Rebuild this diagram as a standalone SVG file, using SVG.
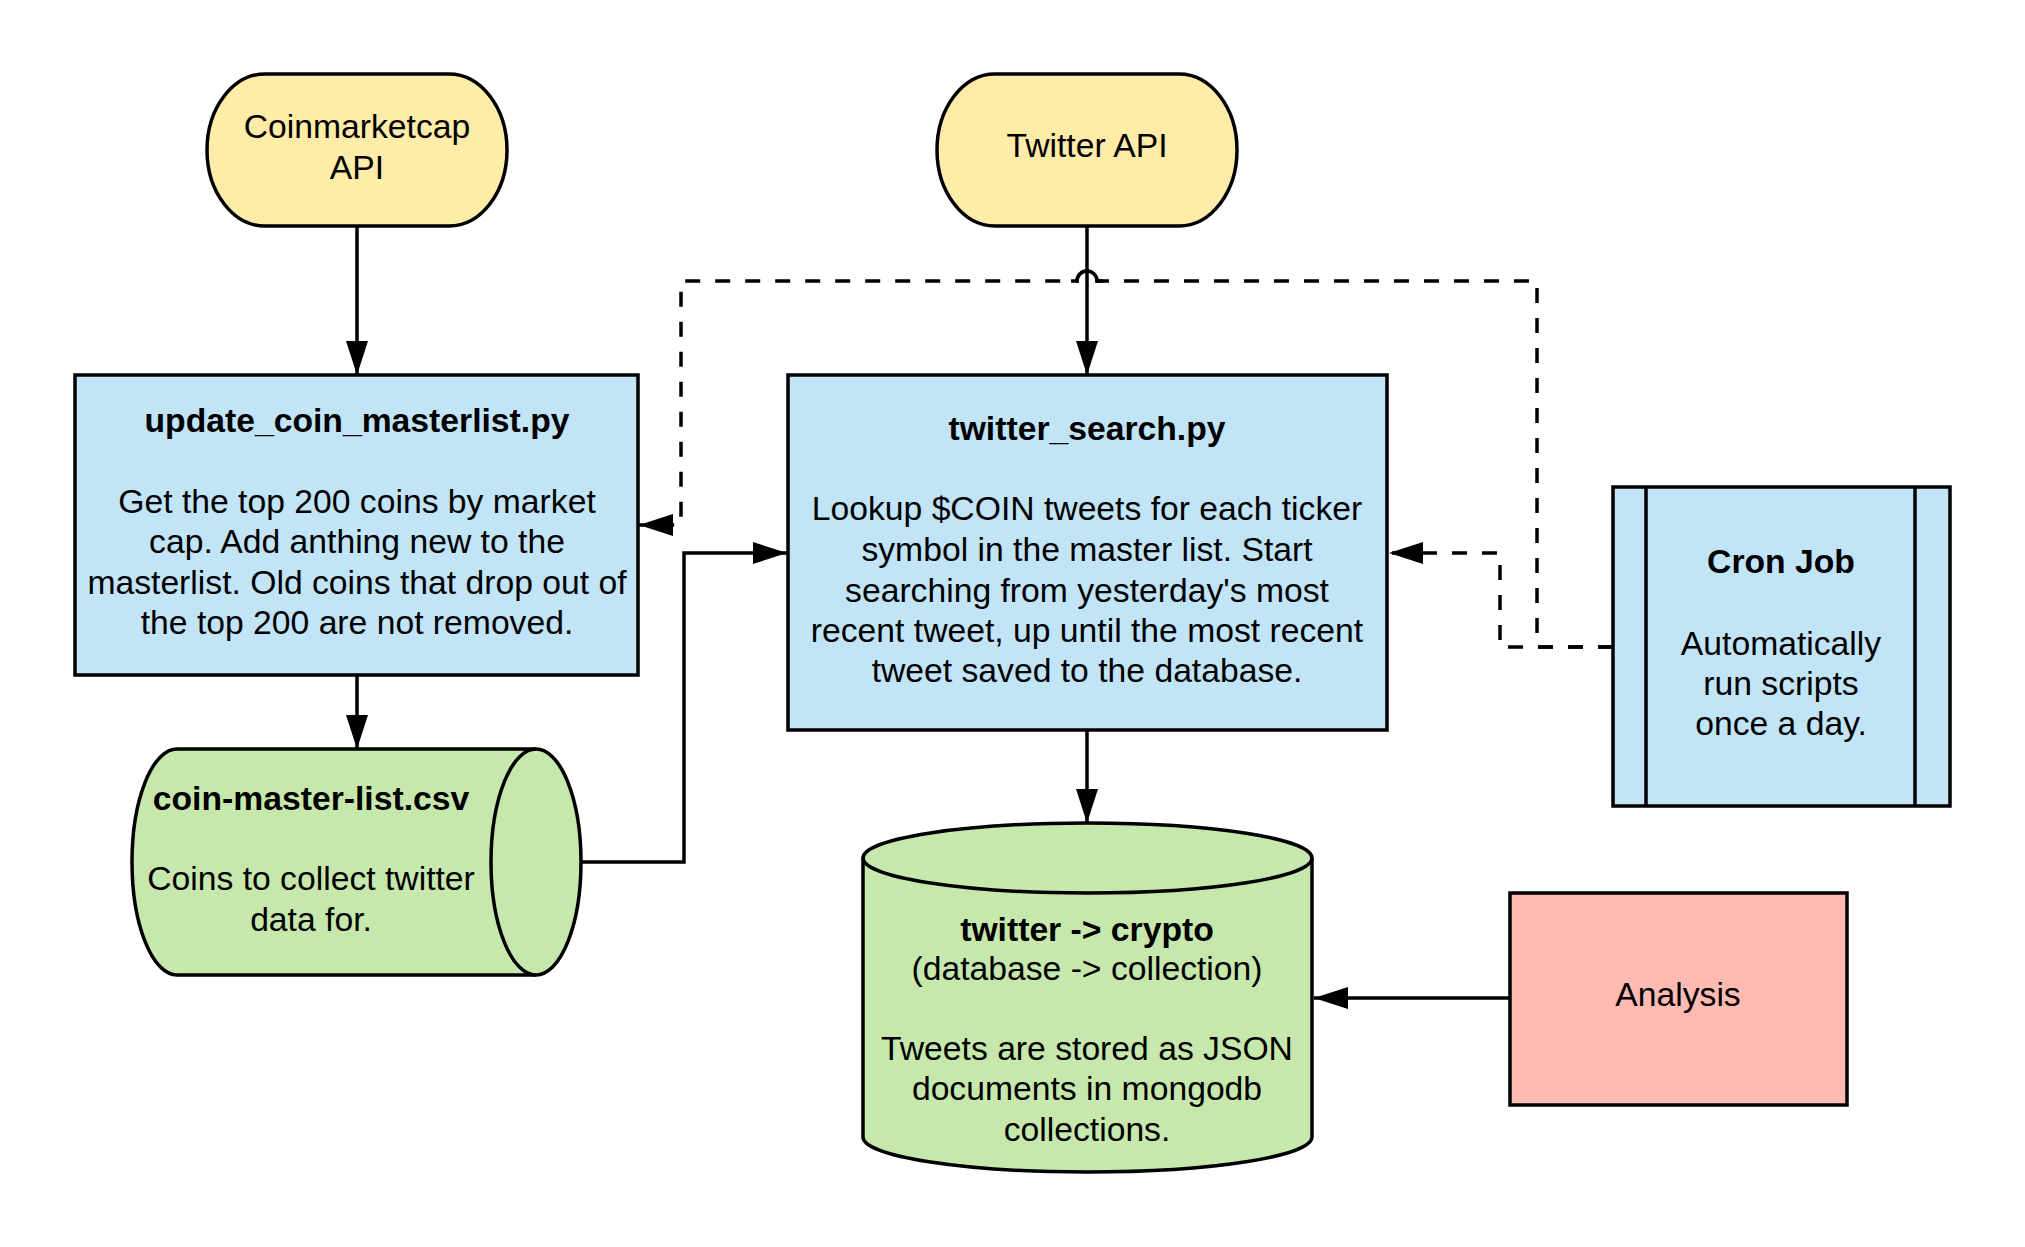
<svg xmlns="http://www.w3.org/2000/svg" width="2025" height="1247" viewBox="0 0 2025 1247">
<defs>
<style>
.n{stroke:#000;stroke-width:3.5;}
.y{fill:#FFECA9;}
.b{fill:#C1E4F7;}
.g{fill:#C7E8AC;}
.r{fill:#FFBBB1;}
text{font-family:"Liberation Sans",Arial,sans-serif;font-size:33.7px;fill:#000;text-anchor:middle;}
.t{font-weight:bold;}
.c{fill:none;stroke:#000;stroke-width:3.5;}
.d{stroke-dasharray:15 15;}
</style>
<marker id="ah" markerUnits="userSpaceOnUse" markerWidth="34" markerHeight="22" refX="34" refY="11" orient="auto">
<path d="M0,0 L34,11 L0,22 Z" fill="#000"/>
</marker>
</defs>
<rect width="2025" height="1247" fill="#fff"/>
<g id="connectors">
<path class="c" d="M357,226 L357,375" marker-end="url(#ah)"/>
<path class="c" d="M1087,226 L1087,375" marker-end="url(#ah)"/>
<path class="c" d="M357,675 L357,749" marker-end="url(#ah)"/>
<path class="c" d="M1087,730 L1087,823" marker-end="url(#ah)"/>
<path class="c" d="M581,862 L684,862 L684,553 L787,553" marker-end="url(#ah)"/>
<path class="c" d="M1510,998 L1314,998" marker-end="url(#ah)"/>
<path class="c d" d="M1613,647 L1500,647 L1500,553 L1389,553" marker-end="url(#ah)"/>
<path class="c d" d="M1613,647 L1537,647 L1537,281 L1097,281 A10,10 0 0 0 1077,281 L681,281 L681,525 L639,525" marker-end="url(#ah)"/>
<path class="c" d="M1103,281 L1097,281 A10,10 0 0 0 1077,281 L1071,281"/>
</g>
<g id="coinmarketcap">
<rect class="n y" x="207" y="74" width="300" height="152" rx="58" ry="76"/>
<text x="357" y="138">Coinmarketcap</text>
<text x="357" y="179">API</text>
</g>
<g id="twitterapi">
<rect class="n y" x="937" y="74" width="300" height="152" rx="58" ry="76"/>
<text x="1087" y="157">Twitter API</text>
</g>
<g id="update">
<rect class="n b" x="75" y="375" width="563" height="300"/>
<text class="t" x="357" y="432">update_coin_masterlist.py</text>
<text x="357" y="513">Get the top 200 coins by market</text>
<text x="357" y="553">cap. Add anthing new to the</text>
<text x="357" y="594">masterlist. Old coins that drop out of</text>
<text x="357" y="634">the top 200 are not removed.</text>
</g>
<g id="twittersearch">
<rect class="n b" x="788" y="375" width="599" height="355"/>
<text class="t" x="1087" y="440">twitter_search.py</text>
<text x="1087" y="520">Lookup $COIN tweets for each ticker</text>
<text x="1087" y="561">symbol in the master list. Start</text>
<text x="1087" y="602">searching from yesterday's most</text>
<text x="1087" y="642">recent tweet, up until the most recent</text>
<text x="1087" y="682">tweet saved to the database.</text>
</g>
<g id="cron">
<rect class="n b" x="1613" y="487" width="337" height="319"/>
<line class="c" x1="1646" y1="487" x2="1646" y2="806"/>
<line class="c" x1="1915" y1="487" x2="1915" y2="806"/>
<text class="t" x="1781" y="573">Cron Job</text>
<text x="1781" y="655">Automatically</text>
<text x="1781" y="695">run scripts</text>
<text x="1781" y="735">once a day.</text>
</g>
<g id="csv">
<path class="n g" d="M177,749 L536,749 A45,113 0 0 1 536,975 L177,975 A45,113 0 0 1 177,749 Z"/>
<path class="c" d="M536,749 A45,113 0 0 0 536,975"/>
<text class="t" x="311" y="810">coin-master-list.csv</text>
<text x="311" y="890">Coins to collect twitter</text>
<text x="311" y="931">data for.</text>
</g>
<g id="database">
<path class="n g" d="M863,858 A224.5,35 0 0 1 1312,858 L1312,1137 A224.5,35 0 0 1 863,1137 Z"/>
<path class="c" d="M863,858 A224.5,35 0 0 0 1312,858"/>
<text class="t" x="1087" y="941">twitter -&gt; crypto</text>
<text x="1087" y="980">(database -&gt; collection)</text>
<text x="1087" y="1060">Tweets are stored as JSON</text>
<text x="1087" y="1100">documents in mongodb</text>
<text x="1087" y="1141">collections.</text>
</g>
<g id="analysis">
<rect class="n r" x="1510" y="893" width="337" height="212"/>
<text x="1678" y="1006">Analysis</text>
</g>
</svg>
